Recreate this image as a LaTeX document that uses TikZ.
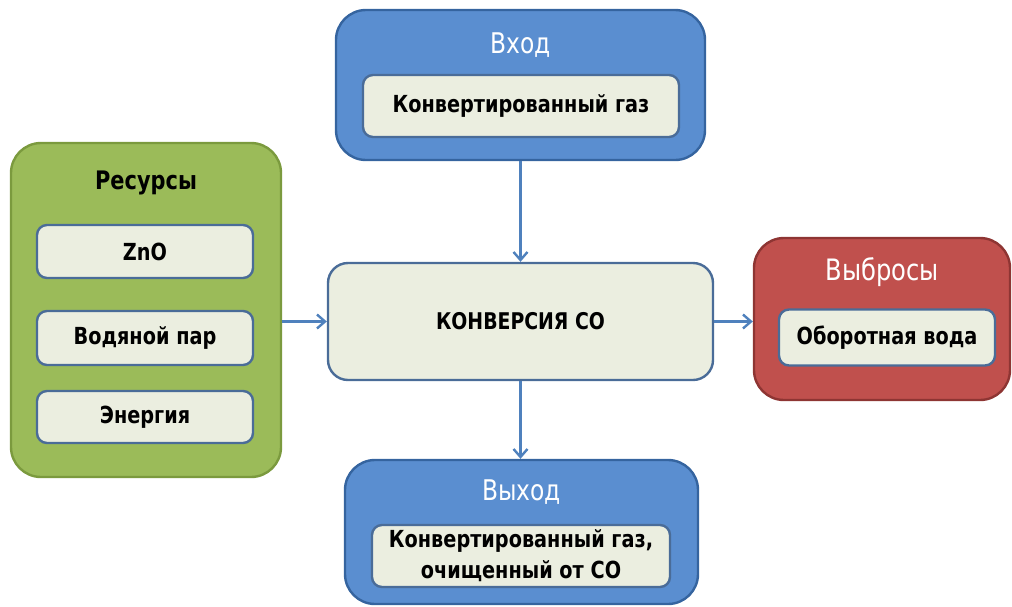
\documentclass[tikz,border=0pt]{standalone}
\usepackage{fontspec}
\setmainfont{DejaVu Sans}[FakeStretch=0.82]
\usetikzlibrary{arrows.meta}
\definecolor{bluefill}{HTML}{5A8ED0}
\definecolor{blueedge}{HTML}{35649F}
\definecolor{greenfill}{HTML}{9BBB59}
\definecolor{greenedge}{HTML}{7B9A3E}
\definecolor{redfill}{HTML}{C0504D}
\definecolor{rededge}{HTML}{8E3533}
\definecolor{innerfill}{HTML}{EBEEE0}
\definecolor{inneredge}{HTML}{4A6C98}
\definecolor{arrowcol}{HTML}{4F81BD}
\tikzset{
  outerbox/.style={draw=#1edge, fill=#1fill, line width=2.4pt, rounded corners=30pt, inner sep=0pt},
  innerbox/.style={draw=inneredge, fill=innerfill, line width=2.4pt, rounded corners=10pt, inner sep=0pt,
    font=\bfseries\fontsize{23.5}{31}\selectfont, align=center},
  headtext/.style={text=white, font=\fontsize{28.5}{32}\selectfont, inner sep=0pt},
  flow/.style={draw=arrowcol, line width=2.4pt, -{Straight Barb[length=8pt,width=14pt,line width=2.4pt]}}
}
\begin{document}
\begin{tikzpicture}[x=1pt,y=-1pt]
\useasboundingbox (0,0) rectangle (1012,606);
% input block
\node[outerbox=blue, minimum width=369pt, minimum height=150pt] (inbox) at (520.5,85) {};
\node[headtext] (inhead) at (520.5,45) {Вход};
\node[innerbox, minimum width=316pt, minimum height=62pt] (ingas) at (521,106) {Конвертированный газ};
% resources block
\node[outerbox=green, minimum width=270pt, minimum height=334pt] (resbox) at (146,310) {};
\node[inner sep=0pt, font=\bfseries\fontsize{25.5}{28}\selectfont] (reshead) at (146,183) {Ресурсы};
\node[innerbox, minimum width=216pt, minimum height=53pt] (zno) at (145,251.5) {ZnO};
\node[innerbox, minimum width=216pt, minimum height=54pt] (steam) at (145,338) {Водяной пар};
\node[innerbox, minimum width=216pt, minimum height=52pt] (energy) at (145,417) {Энергия};
% central process
\node[innerbox, minimum width=385pt, minimum height=117pt, rounded corners=20pt,
  font=\bfseries\fontsize{23}{26}\selectfont] (conv) at (520.5,321.5) {КОНВЕРСИЯ СО};
% emissions block
\node[outerbox=red, minimum width=256pt, minimum height=162pt] (embox) at (882,319) {};
\node[headtext, font=\fontsize{29.5}{32}\selectfont] (emhead) at (882,272) {Выбросы};
\node[innerbox, minimum width=216pt, minimum height=56pt] (water) at (887,337.5) {Оборотная вода};
% output block
\node[outerbox=blue, minimum width=353pt, minimum height=144pt] (outbox) at (521.5,532) {};
\node[headtext] (outhead) at (521.5,492) {Выход};
\node[innerbox, minimum width=298pt, minimum height=62pt] (outgas) at (521,556)
  {Конвертированный газ,\\очищенный от СО};
% flows
\draw[flow] (inbox.south) -- (conv.north);
\draw[flow] (resbox.east |- conv.west) -- (conv.west);
\draw[flow] (conv.east) -- (embox.west |- conv.east);
\draw[flow] (conv.south) -- (conv.south |- outbox.north);
\end{tikzpicture}
\end{document}
